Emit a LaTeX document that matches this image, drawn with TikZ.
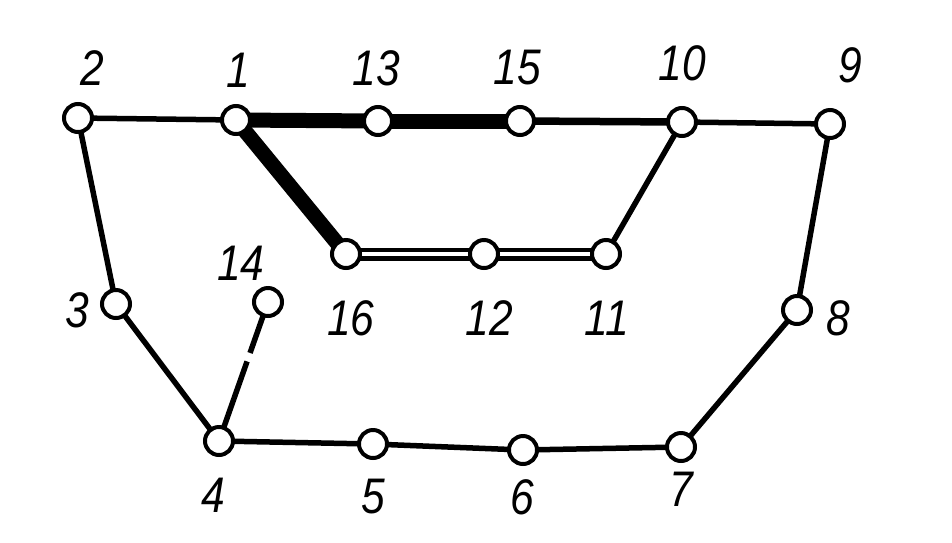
\documentclass[tikz,border=0pt]{standalone}
\usepackage{fontspec}
\setmainfont{Liberation Sans}
\newfontfamily\lblfont[FakeStretch=0.85]{Liberation Sans}
\begin{document}
\begin{tikzpicture}[x=1pt,y=-1pt,
  vtx/.style={circle,draw,line width=4pt,fill=white,minimum size=28pt,inner sep=0pt},
  lbl/.style={font=\lblfont\fontsize{50}{50}\selectfont\itshape,inner sep=0pt},
  edge/.style={line width=5.5pt},
  heavy/.style={line width=15pt},
  medium/.style={line width=7.5pt},
  twin/.style={double,line width=4.5pt,double distance=4pt}]
\useasboundingbox (0,0) rectangle (952,542);
\coordinate (p1) at (236,120);
\coordinate (p2) at (78,118);
\coordinate (p13) at (378,121);
\coordinate (p15) at (520,121);
\coordinate (p10) at (682,122);
\coordinate (p9) at (830,124);
\coordinate (p3) at (116,304);
\coordinate (p14) at (268,302);
\coordinate (p16) at (346,254);
\coordinate (p12) at (484,254);
\coordinate (p11) at (606,254);
\coordinate (p8) at (797,310);
\coordinate (p4) at (219,441);
\coordinate (p5) at (373,444);
\coordinate (p6) at (523,450);
\coordinate (p7) at (681,447);
% edges
\draw[edge] (p2) -- (p1);
\draw[heavy] (p1) -- (p13);
\draw[heavy] (p13) -- (p15);
\draw[heavy] (p1) -- (p16);
\draw[medium] (p15) -- (p10);
\draw[edge] (p10) -- (p9);
\draw[edge] (p10) -- (p11);
\draw[twin] (p16) -- (p12);
\draw[twin] (p12) -- (p11);
\draw[edge] (p9) -- (p8);
\draw[edge] (p8) -- (p7);
\draw[edge] (p2) -- (p3);
\draw[edge] (p3) -- (p4);
\draw[edge,dash pattern=on 54pt off 9pt on 200pt] (p14) -- (p4);
\draw[edge] (p4) -- (p5);
\draw[edge] (p5) -- (p6);
\draw[edge] (p6) -- (p7);
% vertices
\foreach \n in {1,2,3,4,5,6,7,8,9,10,11,12,13,14,15,16}
  \node[vtx] (v\n) at (p\n) {};
% labels
\node[lbl] (t2) at (92,68) {2};
\node[lbl] (t1) at (238,70) {1};
\node[lbl] (t13) at (376,68) {13};
\node[lbl] (t15) at (517,68) {15};
\node[lbl] (t10) at (682,63) {10};
\node[lbl] (t9) at (850,65) {9};
\node[lbl] (t14) at (241,263) {14};
\node[lbl] (t3) at (77,310) {3};
\node[lbl] (t16) at (351,318) {16};
\node[lbl] (t12) at (489,318) {12};
\node[lbl] (t11) at (607,318) {11};
\node[lbl] (t8) at (838,318) {8};
\node[lbl] (t4) at (213,495) {4};
\node[lbl] (t5) at (373,497) {5};
\node[lbl] (t6) at (522,497) {6};
\node[lbl] (t7) at (681,489) {7};
\end{tikzpicture}
\end{document}
